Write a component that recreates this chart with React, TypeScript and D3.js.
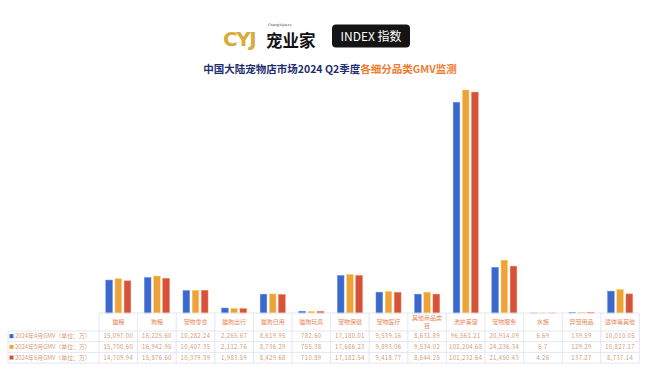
import React from 'react';
import * as d3 from 'd3';

// categories and monthly GMV (unit: 万)
const categories = ['猫粮', '狗粮', '宠物零食', '猫狗出行', '猫狗日用', '猫狗玩具', '宠物保健', '宠物医疗', '其他商品类目', '洗护美容', '宠物服务', '水族', '异宠用品', '适体等其他'];
const seriesNames = ['2024年4月GMV（单位：万）', '2024年5月GMV（单位：万）', '2024年6月GMV（单位：万）'];
const seriesColors = ['#3c68c9', '#eea23e', '#d5533a'];
const aprValues = [15097.0, 16225.6, 10282.24, 2265.67, 8619.95, 782.6, 17180.01, 9539.16, 8631.89, 96561.21, 20914.09, 6.69, 139.59, 10010.05];
const mayValues = [15700.6, 16942.95, 10407.35, 2112.76, 8736.29, 755.38, 17686.23, 9893.06, 9534.02, 102204.68, 24236.34, 6.7, 129.29, 10827.17];
const junValues = [14709.94, 15876.6, 10379.39, 1983.59, 8429.68, 710.89, 17182.54, 9418.77, 8644.25, 101232.64, 21450.43, 4.26, 137.27, 8737.14];

const series = [aprValues, mayValues, junValues];

const W = 650;
const H = 372;
const baseY = 313;
const tableLeft = 8;
const colLeft = 99;
const colRight = 639.4;
const headerBottom = 331;
const rowH = 10.7;

const font = '"Noto Sans CJK SC", "Noto Sans", sans-serif';

const fmt = (v: number) => (v < 100 ? d3.format('.3~r')(v) : d3.format(',.2f')(v));

export default function App() {
  const x = d3.scaleBand<string>().domain(categories).range([colLeft, colRight]).padding(0);
  const col = x.bandwidth();
  const xs = d3
    .scaleBand<number>()
    .domain([0, 1, 2])
    .range([col / 2 - 12.5, col / 2 + 12.5])
    .paddingInner(0.28)
    .paddingOuter(0);
  const y = d3.scaleLinear().domain([0, 110000]).range([baseY, baseY - 240]);

  const gridColor = '#dde1ec';
  const bottom = headerBottom + rowH * 3;

  return (
    <svg width={W} height={H} style={{ position: 'absolute', left: 0, top: 0, background: '#fff' }} fontFamily={font}>
      {/* logo */}
      <g>
        <text x={223} y={45.5} fontSize={20} fontWeight={900} fill="#d8ac3c" fontFamily='"DejaVu Sans", sans-serif' letterSpacing={-1.5}>
          CYJ
        </text>
        <text x={268} y={25.5} fontSize={3.4} fill="#333" fontFamily='"DejaVu Sans", sans-serif'>
          ChengYuJia.cc
        </text>
        <text x={266} y={47} fontSize={16.5} fontWeight={700} fill="#111">
          宠业家
        </text>
        <rect x={332} y={24.5} width={78} height={23} rx={4} fill="#141414" />
        <text x={371} y={40.5} fontSize={12} fill="#fff" textAnchor="middle" fontFamily='"Noto Sans CJK SC", "DejaVu Sans", sans-serif'>
          INDEX 指数
        </text>
      </g>

      {/* title */}
      <text x={330} y={73} fontSize={10.5} fontWeight={700} textAnchor="middle">
        <tspan fill="#1d2d6e">中国大陆宠物店市场2024  Q2季度</tspan>
        <tspan fill="#f07c2c">各细分品类GMV监测</tspan>
      </text>

      {/* bars */}
      {categories.map((c, i) => (
        <g key={c} transform={`translate(${x(c)},0)`}>
          {series.map((vals, s) => (
            <rect
              key={s}
              x={xs(s)}
              y={y(vals[i])}
              width={xs.bandwidth()}
              height={baseY - y(vals[i])}
              fill={seriesColors[s]}
              stroke={d3.color(seriesColors[s])!.brighter(0.8).formatHex()}
              strokeWidth={0.5}
            />
          ))}
        </g>
      ))}

      {/* table grid */}
      <g stroke={gridColor} strokeWidth={0.8}>
        <line x1={colLeft} x2={colRight} y1={baseY} y2={baseY} />
        {[0, 1, 2, 3].map((r) => (
          <line key={r} x1={tableLeft} x2={colRight} y1={headerBottom + r * rowH} y2={headerBottom + r * rowH} />
        ))}
        <line x1={tableLeft} x2={tableLeft} y1={headerBottom} y2={bottom} />
        {[...categories.map((c) => x(c)!), colRight].map((px, i) => (
          <line key={i} x1={px} x2={px} y1={baseY} y2={bottom} />
        ))}
      </g>

      {/* header labels */}
      {categories.map((c) => {
        const cx = x(c)! + col / 2;
        if (c.length > 5) {
          return (
            <text key={c} x={cx} fontSize={6} fill="#e8875a" textAnchor="middle">
              <tspan x={cx} y={320}>{c.slice(0, 5)}</tspan>
              <tspan x={cx} y={328}>{c.slice(5)}</tspan>
            </text>
          );
        }
        return (
          <text key={c} x={cx} y={324} fontSize={6} fill="#e8875a" textAnchor="middle">
            {c}
          </text>
        );
      })}

      {/* rows */}
      {seriesNames.map((name, s) => {
        const ry = headerBottom + s * rowH + rowH / 2 + 2;
        return (
          <g key={name}>
            <rect x={9.5} y={ry - 4.2} width={4} height={4} fill={seriesColors[s]} />
            <text x={15} y={ry} fontSize={5.9} fill="#d39b76">
              {name}
            </text>
            {categories.map((c, i) => (
              <text key={c} x={x(c)! + col / 2} y={ry} fontSize={5.9} fill="#cf9a78" textAnchor="middle" letterSpacing={0.4}>
                {fmt(series[s][i])}
              </text>
            ))}
          </g>
        );
      })}
    </svg>
  );
}
